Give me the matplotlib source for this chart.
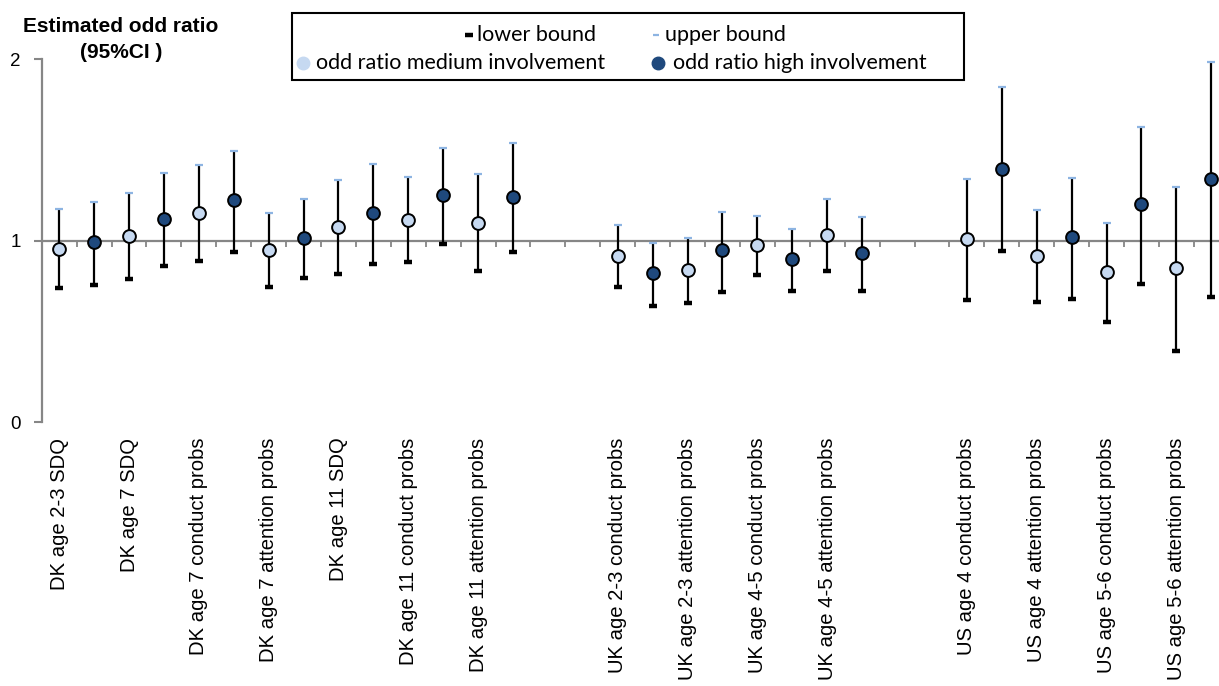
import numpy as np
import matplotlib
matplotlib.use("Agg")
import matplotlib.pyplot as plt
from matplotlib.lines import Line2D
from matplotlib.patches import Rectangle

labels = ["DK age 2-3 SDQ", "DK age 7 SDQ", "DK age 7 conduct probs", "DK age 7 attention probs",
          "DK age 11 SDQ", "DK age 11 conduct probs", "DK age 11 attention probs",
          "UK age 2-3 conduct probs", "UK age 2-3 attention probs", "UK age 4-5 conduct probs",
          "UK age 4-5 attention probs",
          "US age 4 conduct probs", "US age 4 attention probs", "US age 5-6 conduct probs",
          "US age 5-6 attention probs"]
groups = [0, 0, 0, 0, 0, 0, 0, 1, 1, 1, 1, 2, 2, 2, 2]

medium_or = [0.956, 1.024, 1.154, 0.949, 1.077, 1.114, 1.099, 0.917, 0.838, 0.976, 1.031, 1.007, 0.916, 0.827, 0.848]
medium_lo = [0.741, 0.791, 0.890, 0.747, 0.816, 0.881, 0.833, 0.747, 0.655, 0.809, 0.831, 0.672, 0.661, 0.551, 0.394]
medium_hi = [1.173, 1.261, 1.415, 1.154, 1.336, 1.349, 1.367, 1.086, 1.016, 1.137, 1.229, 1.338, 1.169, 1.099, 1.295]
high_or = [0.991, 1.121, 1.224, 1.016, 1.150, 1.251, 1.242, 0.824, 0.949, 0.901, 0.934, 1.396, 1.018, 1.200, 1.339]
high_lo = [0.756, 0.860, 0.936, 0.793, 0.870, 0.982, 0.936, 0.642, 0.717, 0.725, 0.721, 0.945, 0.681, 0.761, 0.690]
high_hi = [1.214, 1.371, 1.494, 1.229, 1.424, 1.508, 1.536, 0.989, 1.159, 1.066, 1.129, 1.844, 1.347, 1.626, 1.982]

LIGHT = "#C6D9F1"
DARK = "#1F497D"
UPC = "#8DB4E2"
GRAY = "#868686"

plt.rcParams['font.family'] = ['Liberation Sans', 'DejaVu Sans']

W, H = 1219, 686
fig = plt.figure(figsize=(W / 100, H / 100), dpi=100)

def fx(px):
    return px / W

def fy(py):
    return 1 - py / H

n_slots = 2 * len(labels) + 2 * max(groups)
ax = fig.add_axes([fx(41.75), fy(422.3), fx(34.91 * n_slots), fy(59) - fy(422.3)])

med_x = np.array([2 * i + 2 * g for i, g in enumerate(groups)])
high_x = med_x + 1

for xs, o, lo, hi, col in [(med_x, medium_or, medium_lo, medium_hi, LIGHT),
                            (high_x, high_or, high_lo, high_hi, DARK)]:
    ax.vlines(xs, lo, hi, color="black", lw=1.6, zorder=2)
    ax.plot(xs, lo, ls="none", marker="_", ms=6, mew=3.2, color="black", zorder=3)
    ax.plot(xs, hi, ls="none", marker="_", ms=5.5, mew=1.6, color=UPC, zorder=3)
    ax.plot(xs, o, ls="none", marker="o", ms=9.2, mfc=col, mec="black", mew=1.4, zorder=4)

ax.axhline(1, color=GRAY, lw=1.6, zorder=1)

ax.set_xlim(-0.5, n_slots - 0.5)
ax.set_ylim(0, 2)

for s in ["top", "right", "bottom"]:
    ax.spines[s].set_visible(False)
ax.spines["left"].set_color(GRAY)
ax.spines["left"].set_linewidth(1.6)

ax.set_yticks([0, 1, 2])
ax.set_yticklabels(["0", "1", "2"], fontsize=13.5)
ax.tick_params(axis="y", direction="out", length=6, width=1.5, color=GRAY, pad=9)

ax.set_xticks(med_x)
ax.set_xticklabels(labels, rotation=90, fontsize=14.6, va="top", ha="center")
ax.tick_params(axis="x", length=0, pad=11)

sec = ax.secondary_xaxis(1, transform=ax.transData)
sec.set_xticks(np.arange(0.5, n_slots - 0.5, 1.0))
sec.tick_params(axis="x", direction="in", length=4, width=1.3, color=GRAY,
                labeltop=False, labelbottom=False)
for s in sec.spines.values():
    s.set_visible(False)

fig.text(fx(121), fy(26), "Estimated odd ratio", ha="center", va="center",
         fontsize=15, fontweight="bold")
fig.text(fx(121), fy(52), "(95%CI )", ha="center", va="center",
         fontsize=15, fontweight="bold")

# legend
fig.add_artist(Rectangle((fx(292), fy(80)), fx(964) - fx(292), fy(13) - fy(80),
                         transform=fig.transFigure, fill=False, ec="black", lw=1.5))
lfont = dict(fontsize=15.5, family=["Lato", "DejaVu Sans"], va="center", ha="left")
fig.add_artist(Line2D([fx(469)], [fy(35)], marker="_", ms=6, mew=3.2, color="black",
                      transform=fig.transFigure))
fig.text(fx(477), fy(35), "lower bound", **lfont)
fig.add_artist(Line2D([fx(656)], [fy(35)], marker="_", ms=5, mew=1.6, color=UPC,
                      transform=fig.transFigure))
fig.text(fx(665), fy(35), "upper bound", **lfont)
fig.add_artist(Line2D([fx(303)], [fy(63)], marker="o", ms=9, mfc=LIGHT, mec=LIGHT,
                      transform=fig.transFigure))
fig.text(fx(316), fy(63), "odd ratio medium involvement", **lfont)
fig.add_artist(Line2D([fx(658)], [fy(63)], marker="o", ms=9, mfc=DARK, mec=DARK,
                      transform=fig.transFigure))
fig.text(fx(673), fy(63), "odd ratio high involvement", **lfont)

fig.savefig("out.png", dpi=100)
